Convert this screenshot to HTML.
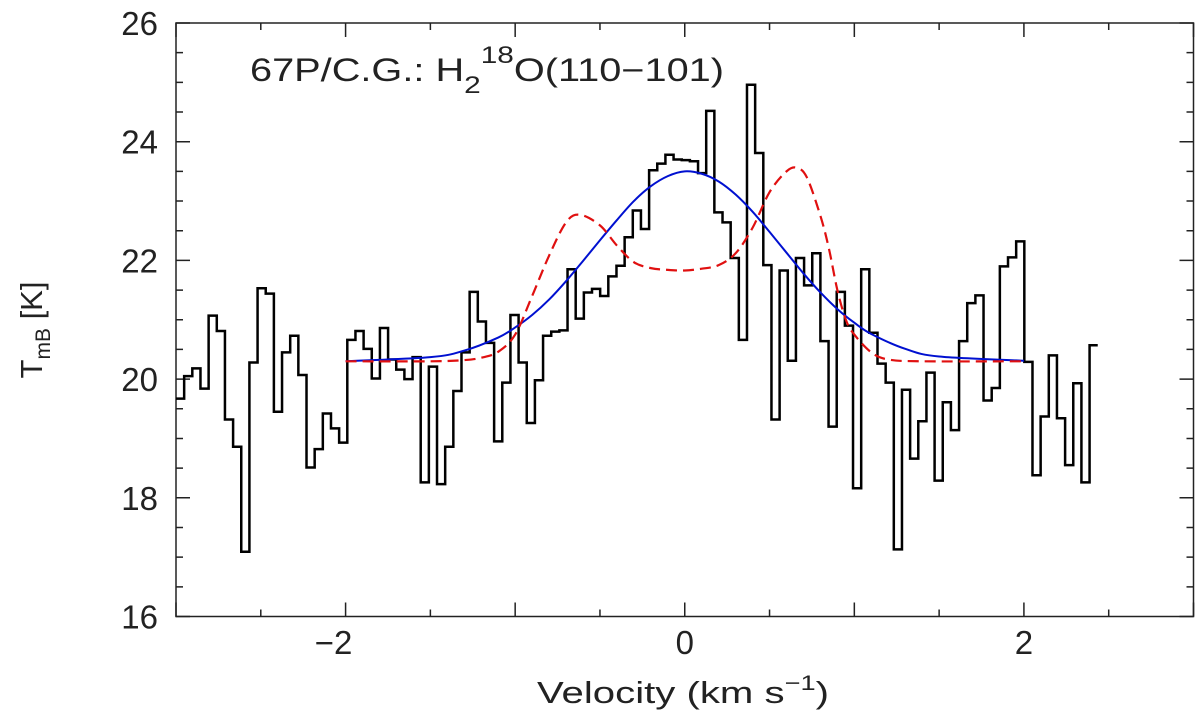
<!DOCTYPE html>
<html><head><meta charset="utf-8"><style>
html,body{margin:0;padding:0;background:#fff;}
svg{display:block;font-family:"Liberation Sans",sans-serif;}
</style></head><body>
<svg id="chart" width="1200" height="716" viewBox="0 0 1200 716" xmlns="http://www.w3.org/2000/svg">
<g id="axes"></g>
<g id="series"></g>
<text x="250" y="81" font-size="32" fill="#222" textLength="474" lengthAdjust="spacingAndGlyphs">67P/C.G.: H<tspan font-size="24" dy="12">2</tspan><tspan font-size="24" dy="-30">18</tspan><tspan dy="18">O(110−101)</tspan></text>
<text x="537" y="703" font-size="31" fill="#222" textLength="292" lengthAdjust="spacingAndGlyphs">Velocity (km s<tspan font-size="21" dy="-13">−1</tspan><tspan dy="13">)</tspan></text>
<text transform="translate(42,330) rotate(-90)" font-size="31" fill="#222" text-anchor="middle">T<tspan font-size="21" dy="8">mB</tspan><tspan dy="-8"> [K]</tspan></text>
</svg>
<script>
const specStart = -3.0;
const specWidth = 0.0481;
const specValues = [19.67,20.05,20.18,19.84,21.07,20.81,19.32,18.86,17.09,20.28,21.53,21.44,19.45,20.45,20.73,20.07,18.51,18.82,19.42,19.17,18.93,20.66,20.81,20.51,20.01,20.86,20.33,20.16,20.00,20.37,18.26,20.21,18.23,18.86,19.80,20.45,21.47,20.97,20.61,18.95,19.94,21.08,
20.28,19.26,19.98,20.73,20.80,20.82,21.85,21.02,21.46,21.52,21.40,21.73,21.91,22.39,22.84,22.53,23.52,23.63,23.78,23.70,23.69,23.67,23.47,24.52,22.81,22.64,22.04,20.66,24.96,23.81,21.92,19.32,21.83,20.31,22.04,21.58,22.12,20.64,19.20,21.47,
20.90,18.16,21.85,20.78,20.26,19.94,17.13,19.82,18.66,19.29,20.11,18.29,19.61,19.14,20.64,21.28,21.41,19.64,19.85,21.90,22.05,22.32,20.29,18.38,19.37,20.40,19.34,18.55,19.93,18.26,20.57];
const blueV = [-2.0,-1.5,-1.3,-1.1,-1.0,-0.9,-0.8,-0.7,-0.6,-0.5,-0.4,-0.3,-0.2,-0.1,0.0,0.1,0.2,0.3,0.4,0.5,0.6,0.7,0.8,0.9,1.0,1.1,1.3,1.5,2.0];
const blueT = [20.30,20.37,20.48,20.70,20.87,21.08,21.34,21.65,21.99,22.34,22.68,23.00,23.25,23.42,23.50,23.46,23.33,23.11,22.82,22.48,22.13,21.78,21.46,21.18,20.95,20.76,20.51,20.38,20.31];
const redV = [-2.0,-1.5,-1.3,-1.2,-1.1,-1.0,-0.9,-0.8,-0.7,-0.62,-0.5,-0.4,-0.3,-0.2,-0.1,0.0,0.1,0.2,0.3,0.4,0.5,0.6,0.66,0.72,0.8,0.85,0.9,0.95,1.0,1.1,1.2,1.4,2.0];
const redT = [20.30,20.30,20.32,20.36,20.46,20.75,21.40,22.08,22.64,22.77,22.59,22.25,21.97,21.87,21.84,21.83,21.86,21.92,22.12,22.55,23.15,23.50,23.56,23.40,22.75,22.20,21.50,21.00,20.75,20.45,20.33,20.30,20.30];
const xTickLabels = ["−2","0","2"];
const xTickVals = [-2,0,2];
const yTickVals = [16,18,20,22,24,26];

const X0=176, X1=1193.5, Y0=616.5, Y1=23;
const xMin=-3, xMax=3, yMin=16, yMax=26;
function sx(v){return X0+(v-xMin)/(xMax-xMin)*(X1-X0);}
function sy(t){return Y0-(t-yMin)/(yMax-yMin)*(Y0-Y1);}
const NS="http://www.w3.org/2000/svg";
function mk(tag,parent){const e=document.createElementNS(NS,tag);parent.appendChild(e);return e;}
const axes=document.getElementById('axes'), series=document.getElementById('series');

const frame=mk('rect',axes);


frame.setAttribute('x',X0);frame.setAttribute('y',Y1);frame.setAttribute('width',X1-X0);frame.setAttribute('height',Y0-Y1);
frame.setAttribute('fill','none');frame.setAttribute('stroke','#222');frame.setAttribute('stroke-width','1.5');

let td='';
for(let v=-3;v<=3.001;v+=0.5){const x=sx(v);const L=(Math.abs(v-Math.round(v))<0.01)?14:7;td+=`M${x},${Y0}v${-L}M${x},${Y1}v${L}`;}
for(let t=16;t<=26.001;t+=0.5){const y=sy(t);const L=(Math.abs(t/2-Math.round(t/2))<0.01)?14:7;td+=`M${X0},${y}h${L}M${X1},${y}h${-L}`;}
const ticks=mk('path',axes);


ticks.setAttribute('d',td);ticks.setAttribute('stroke','#222');ticks.setAttribute('stroke-width','1.5');

xTickVals.forEach((v,i)=>{const t=mk('text',axes);


t.setAttribute('x',sx(v)-(v<0?12:0));t.setAttribute('y',654);t.setAttribute('font-size','33');t.setAttribute('fill','#222');t.setAttribute('text-anchor','middle');t.textContent=xTickLabels[i];});
yTickVals.forEach(v=>{const t=mk('text',axes);


t.setAttribute('x',158);t.setAttribute('y',sy(v)+12);t.setAttribute('font-size','33');t.setAttribute('fill','#222');t.setAttribute('text-anchor','end');t.textContent=String(v);});

let hd='';
specValues.forEach((val,i)=>{const xa=sx(specStart+i*specWidth), xb=sx(specStart+(i+1)*specWidth), y=sy(val);
hd+=(i===0?`M${xa},${y}`:`L${xa},${y}`)+`L${xb},${y}`;});
const hist=mk('path',series);


hist.setAttribute('d',hd);hist.setAttribute('fill','none');hist.setAttribute('stroke','#000');hist.setAttribute('stroke-width','2.5');

function curve(vs,ts){
  const p=vs.map((v,i)=>[sx(v),sy(ts[i])]);
  let d=`M${p[0][0]},${p[0][1]}`;
  for(let i=0;i<p.length-1;i++){
    const p0=p[Math.max(0,i-1)],p1=p[i],p2=p[i+1],p3=p[Math.min(p.length-1,i+2)];
    const c1=[p1[0]+(p2[0]-p0[0])/6,p1[1]+(p2[1]-p0[1])/6];
    const c2=[p2[0]-(p3[0]-p1[0])/6,p2[1]-(p3[1]-p1[1])/6];
    d+=`C${c1[0]},${c1[1]} ${c2[0]},${c2[1]} ${p2[0]},${p2[1]}`;
  }
  return d;
}
const blue=mk('path',series);


blue.setAttribute('d',curve(blueV,blueT));blue.setAttribute('fill','none');blue.setAttribute('stroke','#0010d0');blue.setAttribute('stroke-width','2');
const red=mk('path',series);


red.setAttribute('d',curve(redV,redT));red.setAttribute('fill','none');red.setAttribute('stroke','#e01010');red.setAttribute('stroke-width','2.2');red.setAttribute('stroke-dasharray','11,6');
</script>
</body></html>
